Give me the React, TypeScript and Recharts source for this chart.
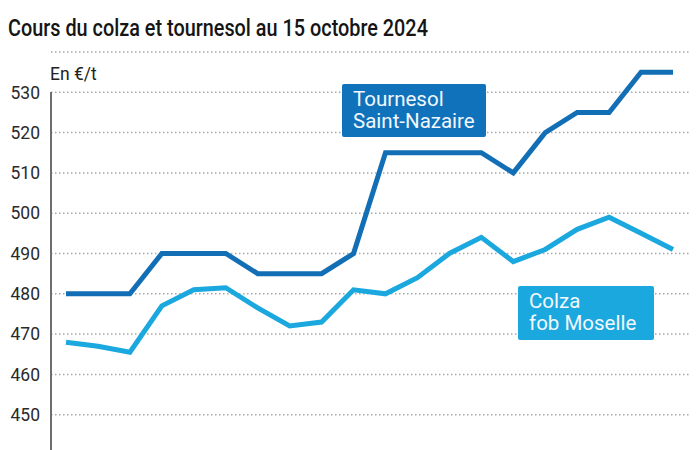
import React from "react";
import { CartesianGrid, Line, LineChart, XAxis, YAxis } from "recharts";

// weekly quotes, oldest first
const periods = [
  "1", "2", "3", "4", "5", "6", "7", "8", "9", "10",
  "11", "12", "13", "14", "15", "16", "17", "18", "19", "20",
];
const tournesol = [
  480, 480, 480, 490, 490, 490, 485, 485, 485, 490,
  515, 515, 515, 515, 510, 520, 525, 525, 535, 535,
];
const colza = [
  468, 467, 465.5, 477, 481, 481.5, 476.5, 472, 473, 481,
  480, 484, 490, 494, 488, 491, 496, 499, 495, 491,
];
const yTicks = [450, 460, 470, 480, 490, 500, 510, 520, 530];

const DARK = "#136fb5";
const LIGHT = "#1ba8de";
const FONT = "Roboto, sans-serif";

const data = periods.map((p, i) => ({
  period: p,
  tournesol: tournesol[i],
  colza: colza[i],
}));

const boxStyle: React.CSSProperties = {
  position: "absolute",
  color: "#f2f8fd",
  fontFamily: FONT,
  fontSize: 20.5,
  lineHeight: "22px",
  borderRadius: 2,
  boxSizing: "border-box",
  whiteSpace: "nowrap",
};

export default function App() {
  return (
    <div
      style={{
        position: "absolute",
        top: 0,
        left: 0,
        width: 700,
        height: 450,
        overflow: "hidden",
        background: "#fff",
        fontFamily: FONT,
      }}
    >
      {/* Title (condensed look) */}
      <div
        style={{
          position: "absolute",
          left: 8,
          top: 14,
          fontSize: 24.5,
          lineHeight: "28px",
          fontWeight: 500,
          color: "#151515",
          whiteSpace: "nowrap",
          transform: "scaleX(0.81)",
          transformOrigin: "left top",
        }}
      >
        Cours du colza et tournesol au 15 octobre 2024
      </div>
      <div
        style={{
          position: "absolute",
          left: 50,
          top: 64,
          fontSize: 17.5,
          color: "#222",
        }}
      >
        En €/t
      </div>

      <div style={{ position: "absolute", top: 0, left: 0 }}>
        <LineChart
          width={700}
          height={460}
          data={data}
          margin={{ top: 52, right: 10, bottom: 5, left: 0 }}
        >
          <CartesianGrid
            vertical={false}
            stroke="#a8a8a8"
            strokeWidth={1.5}
            strokeDasharray="1.5 2.5"
          />
          <XAxis dataKey="period" hide padding={{ left: 15, right: 17 }} />
          <YAxis
            width={51}
            domain={[440, 540]}
            ticks={yTicks}
            axisLine={false}
            tickLine={false}
            tickSize={0}
            tickMargin={11}
            tick={{ fill: "#2a2a2a", fontSize: 17.5, fontFamily: FONT }}
          />
          <Line
            type="linear"
            dataKey="colza"
            stroke={LIGHT}
            strokeWidth={5}
            dot={false}
            isAnimationActive={false}
          />
          <Line
            type="linear"
            dataKey="tournesol"
            stroke={DARK}
            strokeWidth={5}
            dot={false}
            isAnimationActive={false}
          />
        </LineChart>
      </div>

      {/* y axis line, starting at the top tick */}
      <div
        style={{
          position: "absolute",
          left: 50,
          top: 92,
          width: 1.5,
          height: 360,
          background: "#6e6e6e",
        }}
      />

      <div
        style={{
          ...boxStyle,
          left: 342,
          top: 84,
          width: 144,
          height: 53,
          padding: "4px 0 0 11px",
          background: "#0f72bb",
        }}
      >
        Tournesol
        <br />
        Saint-Nazaire
      </div>
      <div
        style={{
          ...boxStyle,
          left: 518,
          top: 286,
          width: 136,
          height: 54,
          padding: "4px 0 0 11px",
          background: LIGHT,
        }}
      >
        Colza
        <br />
        fob Moselle
      </div>
    </div>
  );
}
